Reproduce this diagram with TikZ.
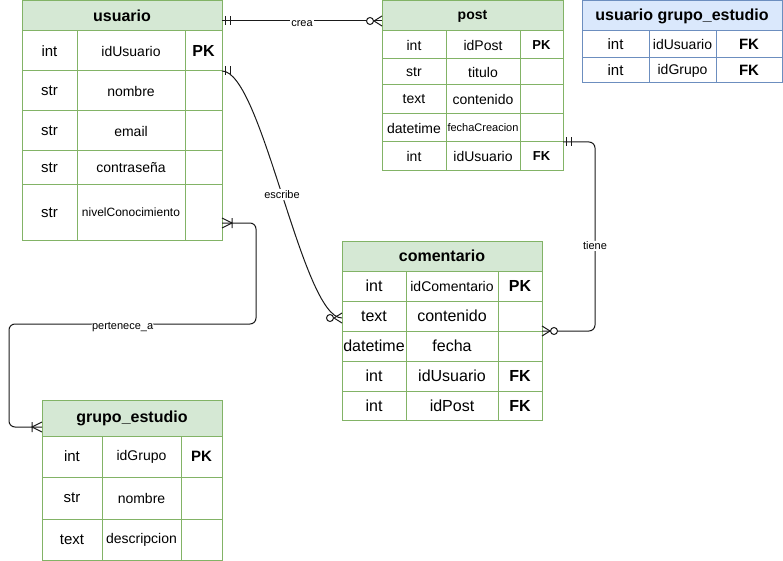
\documentclass[tikz,border=0pt]{standalone}
\usepackage{fontspec}
\setmainfont{Liberation Sans}
\definecolor{gfill}{HTML}{D5E8D4}
\definecolor{gline}{HTML}{82B366}
\definecolor{bfill}{HTML}{DAE8FC}
\definecolor{bline}{HTML}{6C8EBF}
\definecolor{rline}{HTML}{1A1A1A}
\newcommand{\erH}{\fontsize{16}{19}\selectfont\bfseries}
\newcommand{\erHs}{\fontsize{14}{17}\selectfont\bfseries}
\newcommand{\erT}{\fontsize{15}{18}\selectfont}
\newcommand{\erTb}{\fontsize{16}{19}\selectfont}
\newcommand{\erN}{\fontsize{14}{17}\selectfont}
\newcommand{\erNs}{\fontsize{12}{14}\selectfont}
\newcommand{\erNx}{\fontsize{11}{13}\selectfont}
\newcommand{\erK}{\fontsize{16}{19}\selectfont\bfseries}
\newcommand{\erKs}{\fontsize{13}{16}\selectfont\bfseries}
\newcommand{\erKm}{\fontsize{15}{18}\selectfont\bfseries}
\newcommand{\erL}{\fontsize{11}{13}\selectfont}
\newcommand{\ercell}[7]{\node[#7, minimum width={(#4-#2)*1pt}, minimum height={(#5-#3)*1pt}] (#1) at ({(#2+#4)/2},{(#3+#5)/2+1}) {#6};}
\newcommand{\erOne}[2]{\begin{scope}[shift={(#1)},rotate=#2]\draw[tipline] (3,-4.5)--(3,4.5) (8,-4.5)--(8,4.5);\end{scope}}
\newcommand{\erZM}[2]{\begin{scope}[shift={(#1)},rotate=#2]\draw[tipline] (0,-5)--(8,0)--(0,5);\draw[tipline,fill=white] (12,0) circle [radius=3.5pt];\end{scope}}
\newcommand{\erOM}[2]{\begin{scope}[shift={(#1)},rotate=#2]\draw[tipline] (0,-5)--(10,0)--(0,5) (10,-5)--(10,5);\end{scope}}
\begin{document}
\begin{tikzpicture}[x=1pt,y=-1pt,
  gc/.style={draw=gline, fill=white, line width=1pt, inner sep=0pt, outer sep=0pt, text=black, align=center},
  gh/.style={gc, fill=gfill},
  bc/.style={gc, draw=bline},
  bh/.style={bc, fill=bfill},
  rel/.style={draw=rline, line width=1pt},
  tipline/.style={draw=rline, line width=1pt},
  lbl/.style={fill=white, inner sep=1pt, font=\erL, text=black}]
\useasboundingbox (0,0) rectangle (783,561);

% usuario
\ercell{uH}{22}{0}{222}{30}{usuario}{gh,font=\erH}
\ercell{u1a}{22}{30}{77}{70}{int}{gc,font=\erT}
\ercell{u1b}{77}{30}{185}{70}{idUsuario}{gc,font=\erN}
\ercell{u1c}{185}{30}{222}{70}{PK}{gc,font=\erK}
\ercell{u2a}{22}{70}{77}{110}{str}{gc,font=\erT}
\ercell{u2b}{77}{70}{185}{110}{nombre}{gc,font=\erN}
\ercell{u2c}{185}{70}{222}{110}{}{gc}
\ercell{u3a}{22}{110}{77}{150}{str}{gc,font=\erT}
\ercell{u3b}{77}{110}{185}{150}{email}{gc,font=\erN}
\ercell{u3c}{185}{110}{222}{150}{}{gc}
\ercell{u4a}{22}{150}{77}{184}{str}{gc,font=\erT}
\ercell{u4b}{77}{150}{185}{184}{contraseña}{gc,font=\erN}
\ercell{u4c}{185}{150}{222}{184}{}{gc}
\ercell{u5a}{22}{184}{77}{239}{str}{gc,font=\erT}
\ercell{u5b}{77}{184}{185}{239}{nivelConocimiento}{gc,font=\erNs}
\ercell{u5c}{185}{184}{222}{239}{}{gc}

% post
\ercell{pH}{382}{0}{563}{30}{post}{gh,font=\erHs}
\ercell{p1a}{382}{30}{446}{58}{int}{gc,font=\erN}
\ercell{p1b}{446}{30}{520}{58}{idPost}{gc,font=\erN}
\ercell{p1c}{520}{30}{563}{58}{PK}{gc,font=\erKs}
\ercell{p2a}{382}{58}{446}{84}{str}{gc,font=\erN}
\ercell{p2b}{446}{58}{520}{84}{titulo}{gc,font=\erN}
\ercell{p2c}{520}{58}{563}{84}{}{gc}
\ercell{p3a}{382}{84}{446}{113}{text}{gc,font=\erN}
\ercell{p3b}{446}{84}{520}{113}{contenido}{gc,font=\erN}
\ercell{p3c}{520}{84}{563}{113}{}{gc}
\ercell{p4a}{382}{113}{446}{141}{datetime}{gc,font=\erN}
\ercell{p4b}{446}{113}{520}{141}{fechaCreacion}{gc,font=\erNx}
\ercell{p4c}{520}{113}{563}{141}{}{gc}
\ercell{p5a}{382}{141}{446}{170}{int}{gc,font=\erN}
\ercell{p5b}{446}{141}{520}{170}{idUsuario}{gc,font=\erN}
\ercell{p5c}{520}{141}{563}{170}{FK}{gc,font=\erKs}

% usuario grupo_estudio
\ercell{ugH}{582}{0}{782}{30}{usuario grupo\_estudio}{bh,font=\erH}
\ercell{ug1a}{582}{30}{649}{57}{int}{bc,font=\erT}
\ercell{ug1b}{649}{30}{716}{57}{idUsuario}{bc,font=\erN}
\ercell{ug1c}{716}{30}{782}{57}{FK}{bc,font=\erKm}
\ercell{ug2a}{582}{57}{649}{82}{int}{bc,font=\erT}
\ercell{ug2b}{649}{57}{716}{82}{idGrupo}{bc,font=\erN}
\ercell{ug2c}{716}{57}{782}{82}{FK}{bc,font=\erKm}

% comentario
\ercell{cH}{342}{240}{542}{270}{comentario}{gh,font=\erH}
\ercell{c1a}{342}{270}{406}{300}{int}{gc,font=\erTb}
\ercell{c1b}{406}{270}{498}{300}{idComentario}{gc,font=\erN}
\ercell{c1c}{498}{270}{542}{300}{PK}{gc,font=\erK}
\ercell{c2a}{342}{300}{406}{330}{text}{gc,font=\erTb}
\ercell{c2b}{406}{300}{498}{330}{contenido}{gc,font=\erTb}
\ercell{c2c}{498}{300}{542}{330}{}{gc}
\ercell{c3a}{342}{330}{406}{360}{datetime}{gc,font=\erTb}
\ercell{c3b}{406}{330}{498}{360}{fecha}{gc,font=\erTb}
\ercell{c3c}{498}{330}{542}{360}{}{gc}
\ercell{c4a}{342}{360}{406}{390}{int}{gc,font=\erTb}
\ercell{c4b}{406}{360}{498}{390}{idUsuario}{gc,font=\erTb}
\ercell{c4c}{498}{360}{542}{390}{FK}{gc,font=\erK}
\ercell{c5a}{342}{390}{406}{419}{int}{gc,font=\erTb}
\ercell{c5b}{406}{390}{498}{419}{idPost}{gc,font=\erTb}
\ercell{c5c}{498}{390}{542}{419}{FK}{gc,font=\erK}

% grupo_estudio
\ercell{gH}{42}{399}{222}{435}{grupo\_estudio}{gh,font=\erH}
\ercell{g1a}{42}{435}{102}{476}{int}{gc,font=\erT}
\ercell{g1b}{102}{435}{181}{476}{idGrupo}{gc,font=\erN}
\ercell{g1c}{181}{435}{222}{476}{PK}{gc,font=\erKm}
\ercell{g2a}{42}{476}{102}{518}{str}{gc,font=\erT}
\ercell{g2b}{102}{476}{181}{518}{nombre}{gc,font=\erN}
\ercell{g2c}{181}{476}{222}{518}{}{gc}
\ercell{g3a}{42}{518}{102}{559}{text}{gc,font=\erT}
\ercell{g3b}{102}{518}{181}{559}{descripcion}{gc,font=\erN}
\ercell{g3c}{181}{518}{222}{559}{}{gc}

% connector end points
\coordinate (creaS) at (uH.east |- 0,21);
\coordinate (creaE) at (pH.west |- 0,21);
\coordinate (escS) at (u1c.south east);
\coordinate (escE) at (c2a.west |- 0,318);
\coordinate (tieS) at (p5c.north east);
\coordinate (tieE) at (c2c.south east);
\coordinate (perS) at (u5c.east |- 0,223);
\coordinate (perE) at (gH.west |- 0,427);

\draw[rel] (creaS) -- node[lbl,yshift=-3pt]{crea} (creaE);
\draw[rel] (escS) .. controls (262,71) and (302,318) .. node[lbl]{escribe} (escE);
\draw[rel,rounded corners=6pt] (tieS) -- (595,142) -- node[lbl,pos=.55]{tiene} (595,331) -- (tieE);
\draw[rel,rounded corners=6pt] (perS) -- (256,223) -- (256,324) -- node[lbl,pos=.54,yshift=-3pt]{pertenece\_a} (9,324) -- (9,427) -- (perE);

\erOne{creaS}{0}
\erZM{creaE}{180}
\erOne{escS}{0}
\erZM{escE}{180}
\erOne{tieS}{0}
\erZM{tieE}{0}
\erOM{perS}{0}
\erOM{perE}{180}
\end{tikzpicture}
\end{document}
